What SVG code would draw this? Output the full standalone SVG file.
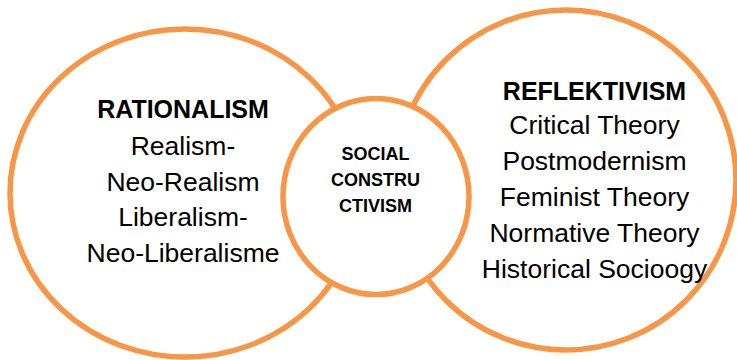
<svg xmlns="http://www.w3.org/2000/svg" width="737" height="360" viewBox="0 0 737 360">
  <style>
    .ring { fill: #FFFFFF; stroke: #F79646; stroke-width: 5.5; }
    .t { font-family: "Liberation Sans", Arial, sans-serif; fill: #000000; text-anchor: middle; }
    .h { font-weight: bold; font-size: 25px; }
    .b { font-size: 26.5px; }
    .m { font-weight: bold; font-size: 18px; }
  </style>
  <rect width="737" height="360" fill="#FFFFFF"/>
  <g id="rationalism">
    <ellipse class="ring" cx="185" cy="193" rx="175" ry="164"/>
    <text class="t h" x="183" y="118">RATIONALISM</text>
    <text class="t b" x="183" y="155">Realism-</text>
    <text class="t b" x="183" y="190.5">Neo-Realism</text>
    <text class="t b" x="183" y="226">Liberalism-</text>
    <text class="t b" x="183" y="261.5">Neo-Liberalisme</text>
  </g>
  <g id="reflektivism">
    <circle class="ring" cx="566" cy="180" r="170"/>
    <text class="t h" x="594.5" y="100">REFLEKTIVISM</text>
    <text class="t b" x="594.5" y="134">Critical Theory</text>
    <text class="t b" x="594.5" y="170">Postmodernism</text>
    <text class="t b" x="594.5" y="206">Feminist Theory</text>
    <text class="t b" x="594.5" y="242">Normative Theory</text>
    <text class="t b" x="594.5" y="278">Historical Socioogy</text>
  </g>
  <g id="social-constructivism">
    <ellipse class="ring" cx="376" cy="196.5" rx="93" ry="98"/>
    <text class="t m" x="375.5" y="160">SOCIAL</text>
    <text class="t m" x="375.5" y="186">CONSTRU</text>
    <text class="t m" x="375.5" y="212">CTIVISM</text>
  </g>
  <g id="connectors"></g>
</svg>
